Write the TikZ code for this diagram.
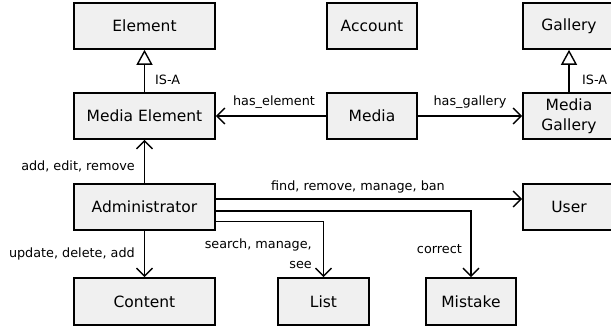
\documentclass[tikz,border=0pt]{standalone}
\usepackage{fontspec}
\setmainfont{DejaVu Sans}
\usetikzlibrary{arrows.meta}
\begin{document}
\begin{tikzpicture}[x=1pt,y=-1pt,
  box/.style={draw=black, line width=1.6pt, fill=black!6, minimum height=46pt,
    inner sep=0pt, font=\fontsize{15.5}{17}\selectfont, align=center},
  lbl/.style={font=\fontsize{12.8}{15}\selectfont, inner sep=0pt},
  rel/.style={line width=1.4pt, -{Straight Barb[length=8pt,width=16pt,line width=1.4pt]}},
  isa/.style={line width=1.4pt, -{Triangle[open,length=15pt,width=16pt,line width=1.4pt]}}]
\useasboundingbox (0,0) rectangle (611,327);
\clip (0,0) rectangle (611,327);

% classes
\node[box, minimum width=141pt] (element) at (144.5,26) {Element};
\node[box, minimum width=90pt] (account) at (372,26) {Account};
\node[box, minimum width=92pt] (gallery) at (569,26) {Gallery};
\node[box, minimum width=141pt] (medel) at (144.5,116) {Media Element};
\node[box, minimum width=90pt] (media) at (372,116) {Media};
\node[box, minimum width=92pt, font=\fontsize{15.5}{20}\selectfont] (medgal) at (569,116) {Media\\Gallery};
\node[box, minimum width=141pt] (admin) at (144.5,207) {Administrator};
\node[box, minimum width=92pt] (user) at (569,207) {User};
\node[box, minimum width=141pt, minimum height=47pt] (content) at (144.5,301.5) {Content};
\node[box, minimum width=91pt, minimum height=47pt] (list) at (323.5,301.5) {List};
\node[box, minimum width=90pt, minimum height=47pt] (mistake) at (471,301.5) {Mistake};

% generalisations
\draw[isa] (medel) -- (element);
\node[lbl, anchor=west] (isa1) at (155,80) {IS-A};
\draw[isa] (medgal) -- (gallery);
\node[lbl, anchor=west] (isa2) at (582,80) {IS-A};

% associations of Media
\draw[rel] (media) -- (medel);
\node[lbl] (hasel) at (274,102) {has\_element};
\draw[rel] (media) -- (medgal);
\node[lbl] (hasgal) at (470,102) {has\_gallery};

% administrator operations
\draw[rel] (admin) -- (medel);
\node[lbl, anchor=east] (aer) at (135,166) {add, edit, remove};
\draw[rel] (admin) -- (content);
\node[lbl, anchor=east] (uda) at (135,254) {update, delete, add};

\coordinate (pU) at ([yshift=8pt]admin.east);
\coordinate (pM) at ([yshift=-3.8pt]admin.east);
\coordinate (pL) at ([yshift=-14.7pt]admin.east);
\draw[rel] (pU) -- (pU -| user.west);
\node[lbl] (frmb) at (358,187) {find, remove, manage, ban};
\draw[rel] (pM) -| (mistake.north);
\node[lbl, anchor=east] (corr) at (462,249) {correct};
\draw[rel] (pL) -| (list.north);
\node[lbl, anchor=east, align=right, font=\fontsize{12.8}{20}\selectfont] (sms) at (312,254) {search, manage,\\see};
\end{tikzpicture}
\end{document}
